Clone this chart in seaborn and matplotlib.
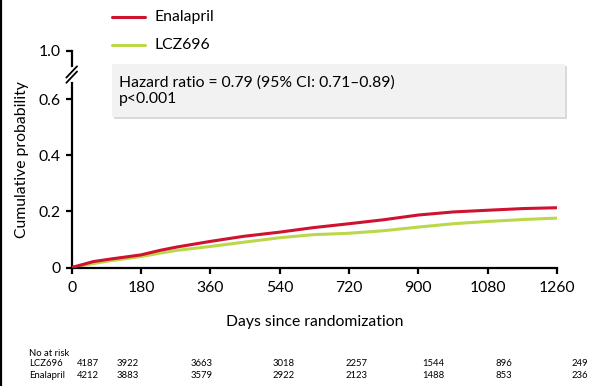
import numpy as np
import pandas as pd
import matplotlib
matplotlib.use("Agg")
import matplotlib.pyplot as plt
from matplotlib.lines import Line2D
from matplotlib.patches import FancyBboxPatch
import seaborn as sns

# Kaplan-Meier style cumulative event curves (days since randomization)
days = [0, 56, 100, 180, 229, 273, 360, 446, 540, 627, 720, 809, 900, 991, 1080, 1172, 1260]
enalapril = [0.0, 0.021, 0.030, 0.045, 0.061, 0.073, 0.093, 0.111, 0.126, 0.142, 0.156,
             0.170, 0.187, 0.198, 0.204, 0.210, 0.213]
lcz696 = [0.0, 0.014, 0.024, 0.039, 0.051, 0.061, 0.075, 0.090, 0.106, 0.117, 0.122,
          0.131, 0.144, 0.156, 0.164, 0.171, 0.176]

x_ticks = [0, 180, 360, 540, 720, 900, 1080, 1260]
y_ticks = [0, 0.2, 0.4, 0.6, 1.0]
y_tick_labels = ["0", "0.2", "0.4", "0.6", "1.0"]

risk_lcz = ["4187", "3922", "3663", "3018", "2257", "1544", "896", "249"]
risk_ena = ["4212", "3883", "3579", "2922", "2123", "1488", "853", "236"]
risk_x = [88, 128, 202, 284, 357, 433, 504, 580]  # pixel centres of the columns

hr_text = "Hazard ratio = 0.79 (95% CI: 0.71\u20130.89)\np<0.001"

RED = "#cf1230"
GREEN = "#bbd84a"
FS = 11.3

sns.set_theme(style="white")
plt.rcParams["font.family"] = ["Lato", "DejaVu Sans"]

W, H = 593, 386
fig = plt.figure(figsize=(W / 100, H / 100), dpi=100)
ax = fig.add_axes([71.7 / W, 1 - 267.5 / H, (557 - 71.7) / W, (267.5 - 50.7) / H])

df = pd.concat([
    pd.DataFrame({"day": days, "prob": enalapril, "arm": "Enalapril"}),
    pd.DataFrame({"day": days, "prob": lcz696, "arm": "LCZ696"}),
])
# LCZ696 underneath, Enalapril on top
for arm, col in [("LCZ696", GREEN), ("Enalapril", RED)]:
    sns.lineplot(data=df[df.arm == arm], x="day", y="prob", color=col, lw=2.2,
                 ax=ax, legend=False, zorder=3 if arm == "Enalapril" else 2)

# compressed segment above 0.65 for the broken y-axis
BRK, K = 0.65, 0.35

def fwd(y):
    y = np.asarray(y, dtype=float)
    return np.where(y <= BRK, y, BRK + (y - BRK) * K)

def inv(t):
    t = np.asarray(t, dtype=float)
    return np.where(t <= BRK, t, BRK + (t - BRK) / K)

ax.set_yscale("function", functions=(fwd, inv))
ax.set_xlim(0, 1260)
ax.set_ylim(0, 1.0)
ax.set_xticks(x_ticks)
ax.set_xticklabels([str(v) for v in x_ticks])
ax.set_yticks(y_ticks)
ax.set_yticklabels(y_tick_labels)
ax.minorticks_off()

for side in ["top", "right"]:
    ax.spines[side].set_visible(False)
for side in ["left", "bottom"]:
    ax.spines[side].set_color("black")
    ax.spines[side].set_linewidth(1.6)
ax.tick_params(axis="both", which="major", direction="out", length=4.5, width=1.6,
               color="black", labelsize=FS, labelcolor="black", pad=3.5,
               left=True, bottom=True)
ax.tick_params(axis="x", pad=5.5)
ax.set_xlabel("Days since randomization", fontsize=FS, color="black", labelpad=14)
ax.set_ylabel("Cumulative probability", fontsize=FS, color="black", labelpad=7)

# axis break marks
yb = 0.89
ax.plot([0, 0], [yb - 0.024, yb + 0.024], transform=ax.transAxes, color="white",
        lw=3, clip_on=False, zorder=5)
for dy in (-0.012, 0.012):
    ax.plot([-0.011, 0.011], [yb + dy - 0.026, yb + dy + 0.026], transform=ax.transAxes,
            color="black", lw=1.3, clip_on=False, zorder=6)

def fx(px):
    return px / W

def fy(py):
    return 1 - py / H

# legend
for py, col, lab in [(17, RED, "Enalapril"), (45, GREEN, "LCZ696")]:
    fig.add_artist(Line2D([fx(112), fx(145)], [fy(py), fy(py)], color=col, lw=2.2))
    fig.text(fx(154), fy(py), lab, fontsize=FS, color="black", va="center", ha="left")

# hazard ratio box with soft shadow
shadow = FancyBboxPatch((fx(114), fy(119)), fx(565 - 112), fy(64) - fy(117),
                        boxstyle="square,pad=0", transform=fig.transFigure,
                        facecolor="#d9d9d9", edgecolor="none", zorder=1)
box = FancyBboxPatch((fx(112), fy(117)), fx(565 - 112), fy(64) - fy(117),
                     boxstyle="square,pad=0", transform=fig.transFigure,
                     facecolor="#f2f2f2", edgecolor="none", zorder=2)
fig.add_artist(shadow)
fig.add_artist(box)
fig.text(fx(119), fy(91), hr_text, fontsize=FS, color="black", va="center", ha="left",
         linespacing=1.2, zorder=3)

# number at risk table
RS = 6.8
fig.text(fx(29), fy(353), "No at risk", fontsize=RS, color="black", va="center")
for py, lab, vals in [(364, "LCZ696", risk_lcz), (375, "Enalapril", risk_ena)]:
    fig.text(fx(29), fy(py), lab, fontsize=RS, color="black", va="center")
    for px, v in zip(risk_x, vals):
        fig.text(fx(px), fy(py), v, fontsize=RS, color="black", va="center", ha="center")

# dark left border of the panel
fig.add_artist(Line2D([0.0017, 0.0017], [0, 1], color="black", lw=1.6))

fig.savefig("out.png", dpi=100)
